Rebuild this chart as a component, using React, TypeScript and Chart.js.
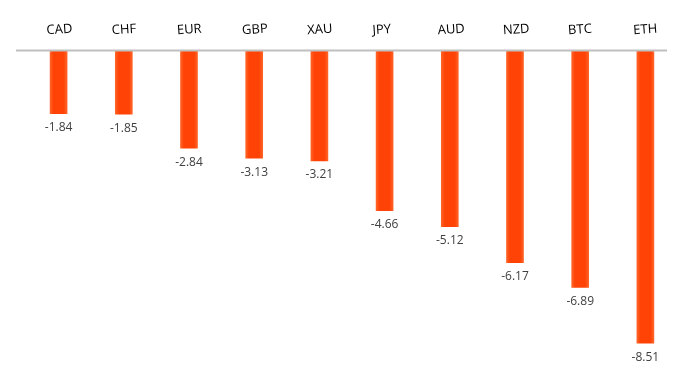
import React, { useEffect, useRef } from "react";
import { Chart, registerables } from "chart.js";

Chart.register(...registerables);

const categories = ["CAD", "CHF", "EUR", "GBP", "XAU", "JPY", "AUD", "NZD", "BTC", "ETH"];
const values = [-1.84, -1.85, -2.84, -3.13, -3.21, -4.66, -5.12, -6.17, -6.89, -8.51];
const yMin = -9;
const yMax = 0;

const FONT = "'Open Sans', 'Noto Sans', sans-serif";

const zeroLinePlugin = {
  id: "zeroLine",
  afterDatasetsDraw(chart: any) {
    const { ctx, chartArea, scales } = chart;
    const y = scales.y.getPixelForValue(0);
    ctx.save();
    ctx.strokeStyle = "#BFBFBF";
    ctx.lineWidth = 2;
    ctx.beginPath();
    ctx.moveTo(chartArea.left - 10, y);
    ctx.lineTo(chartArea.right - 11, y);
    ctx.stroke();
    ctx.restore();
  },
};

const valueLabelPlugin = {
  id: "valueLabels",
  afterDatasetsDraw(chart: any) {
    const { ctx } = chart;
    const meta = chart.getDatasetMeta(0);
    ctx.save();
    ctx.font = `12px ${FONT}`;
    ctx.fillStyle = "#404040";
    ctx.textAlign = "center";
    ctx.textBaseline = "middle";
    meta.data.forEach((bar: any, i: number) => {
      const v = chart.data.datasets[0].data[i] as number;
      ctx.fillText(v.toFixed(2), bar.x, bar.y + 14);
    });
    ctx.restore();
  },
};

export default function App() {
  const ref = useRef<HTMLCanvasElement>(null);
  useEffect(() => {
    if (!ref.current) return;
    const chart = new Chart(ref.current, {
      type: "bar",
      data: {
        labels: categories,
        datasets: [
          {
            data: values,
            barThickness: 17,
            backgroundColor: (c: any) => {
              const ch = c.chart;
              const xs = ch.scales?.x;
              if (!xs || c.index === undefined) return "#FF4306";
              const px = xs.getPixelForValue(c.index);
              if (!Number.isFinite(px)) return "#FF4306";
              const g = ch.ctx.createLinearGradient(px - 8.5, 0, px + 8.5, 0);
              g.addColorStop(0, "#FF6428");
              g.addColorStop(0.2, "#FF4306");
              g.addColorStop(0.8, "#FF4306");
              g.addColorStop(1, "#FF6428");
              return g;
            },
            borderWidth: 0,
          },
        ],
      },
      options: {
        animation: false,
        responsive: false,
        maintainAspectRatio: false,
        layout: { padding: { left: 26, right: 17, top: 9, bottom: 20 } },
        plugins: { legend: { display: false }, tooltip: { enabled: false } },
        scales: {
          x: {
            position: "top",
            grid: { display: false, drawTicks: false },
            border: { display: false },
            ticks: {
              color: "#000000",
              font: { family: FONT, size: 13 },
              minRotation: 4,
              maxRotation: 4,
              labelOffset: -11,
              padding: 12,
            },
          },
          y: {
            display: false,
            min: yMin,
            max: yMax,
          },
        },
      },
      plugins: [zeroLinePlugin, valueLabelPlugin],
    });
    return () => chart.destroy();
  }, []);
  return (
    <div style={{ position: "fixed", left: 0, top: 0, width: 695, height: 380, background: "#fff" }}>
      <canvas ref={ref} width={695} height={380} style={{ width: 695, height: 380 }} />
    </div>
  );
}
